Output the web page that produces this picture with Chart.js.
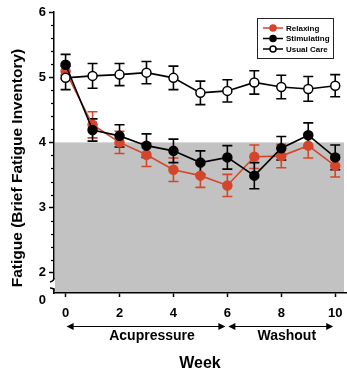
<!DOCTYPE html>
<html>
<head>
<meta charset="utf-8">
<script src="https://cdn.jsdelivr.net/npm/chart.js@4.4.1/dist/chart.umd.min.js"></script>
<style>
html, body { margin: 0; padding: 0; background: #fff; }
canvas { display: block; }
</style>
</head>
<body>
<canvas id="myChart" width="347" height="373"></canvas>
<script>

// weeks of the study
var weeks = [0, 1, 2, 3, 4, 5, 6, 7, 8, 9, 10];

// mean fatigue scores and their error (SE) per week
var relaxing       = [5.09, 4.27, 4.00, 3.81, 3.58, 3.49, 3.34, 3.78, 3.79, 3.95, 3.64];
var relaxingErr    = [0.12, 0.20, 0.17, 0.18, 0.18, 0.18, 0.17, 0.18, 0.18, 0.19, 0.17];
var stimulating    = [5.19, 4.19, 4.10, 3.95, 3.87, 3.69, 3.77, 3.49, 3.91, 4.11, 3.77];
var stimulatingErr = [0.16, 0.17, 0.17, 0.18, 0.18, 0.18, 0.18, 0.20, 0.18, 0.19, 0.19];
var usualCare      = [4.99, 5.02, 5.04, 5.07, 4.99, 4.76, 4.79, 4.92, 4.85, 4.82, 4.87];
var usualCareErr   = [0.18, 0.19, 0.17, 0.17, 0.18, 0.18, 0.17, 0.18, 0.18, 0.19, 0.17];

// axis ticks
var xTicks = [0, 2, 4, 6, 8, 10];
var yTicks = [2, 3, 4, 5, 6];
var yBreakLabel = '0';

// fatigue cutoff (shaded below)
var cutoff = 4;

// study phases under the x axis
var phaseNames = ['Acupressure', 'Washout'];
var phaseStart = [0, 6];
var phaseEnd   = [6, 10];

var FONT = "'Liberation Sans', Arial, Helvetica, sans-serif";
var RED = '#d4462c';

function pts(vals){
	return weeks.map(function(w, i){ return {x: w, y: vals[i]}; });
}

var data = {
	datasets: [
		{
			label: 'Relaxing',
			data: pts(relaxing),
			err: relaxingErr,
			borderColor: RED,
			backgroundColor: RED,
			pointBackgroundColor: RED,
			pointBorderColor: RED,
			errColor: RED,
			order: 3
		},
		{
			label: 'Stimulating',
			data: pts(stimulating),
			err: stimulatingErr,
			borderColor: '#000',
			backgroundColor: '#000',
			pointBackgroundColor: '#000',
			pointBorderColor: '#000',
			errColor: '#000',
			order: 2
		},
		{
			label: 'Usual Care',
			data: pts(usualCare),
			err: usualCareErr,
			borderColor: '#000',
			backgroundColor: '#fff',
			pointBackgroundColor: '#fff',
			pointBorderColor: '#000',
			errColor: '#000',
			order: 1
		}
	]
};

// grey area below cutoff, drawn under everything
var shadePlugin = {
	id: 'shade',
	beforeDraw: function(chart){
		var ctx = chart.ctx, a = chart.chartArea;
		var y4 = chart.scales.y.getPixelForValue(cutoff);
		ctx.save();
		ctx.fillStyle = '#c2c2c2';
		ctx.fillRect(a.left + 0.75, y4, a.right - a.left - 2.75, a.bottom - y4 - 1);
		ctx.restore();
	}
};

// error bars
var errPlugin = {
	id: 'errbars',
	beforeDatasetsDraw: function(chart){
		var ctx = chart.ctx, ys = chart.scales.y;
		ctx.save();
		ctx.lineWidth = 1.6;
		[0, 1, 2].forEach(function(di){
			var ds = chart.data.datasets[di];
			var meta = chart.getDatasetMeta(di);
			ctx.strokeStyle = ds.errColor;
			meta.data.forEach(function(p, i){
				var v = ds.data[i].y, e = ds.err[i];
				var t = ys.getPixelForValue(v + e), b = ys.getPixelForValue(v - e);
				ctx.beginPath();
				ctx.moveTo(p.x, t); ctx.lineTo(p.x, b);
				ctx.moveTo(p.x - 5, t); ctx.lineTo(p.x + 5, t);
				ctx.moveTo(p.x - 5, b); ctx.lineTo(p.x + 5, b);
				ctx.stroke();
			});
		});
		ctx.restore();
	}
};

// extra decorations: minor ticks, axis break, titles, phase arrows, legend
var decoPlugin = {
	id: 'deco',
	afterDraw: function(chart){
		var ctx = chart.ctx, a = chart.chartArea;
		var xs = chart.scales.x, ys = chart.scales.y;
		ctx.save();

		// minor y ticks
		ctx.strokeStyle = '#000';
		ctx.lineWidth = 1.2;
		for (var v = 2; v < 6; v += 0.2){
			if (Math.abs(v - Math.round(v)) < 0.01) continue;
			var yy = Math.round(ys.getPixelForValue(v)) + 0.5;
			ctx.beginPath();
			ctx.moveTo(a.left, yy); ctx.lineTo(a.left - 3, yy);
			ctx.stroke();
		}

		// axis break
		ctx.fillStyle = '#fff';
		ctx.fillRect(a.left - 2, a.bottom - 14, 3, 9);
		ctx.lineWidth = 1.5;
		ctx.beginPath();
		ctx.moveTo(a.left, a.bottom - 15);
		ctx.quadraticCurveTo(a.left, a.bottom - 12, a.left - 4, a.bottom - 11);
		ctx.moveTo(a.left - 4, a.bottom - 5);
		ctx.quadraticCurveTo(a.left, a.bottom - 5, a.left, a.bottom - 2);
		ctx.stroke();
		ctx.fillStyle = '#000';
		ctx.font = 'bold 13px ' + FONT;
		ctx.textAlign = 'right';
		ctx.textBaseline = 'middle';
		ctx.fillText(yBreakLabel, a.left - 8, a.bottom + 7);

		// y title
		ctx.save();
		ctx.translate(18, 168);
		ctx.rotate(-Math.PI / 2);
		ctx.font = 'bold 15.5px ' + FONT;
		ctx.textAlign = 'center';
		ctx.fillText('Fatigue (Brief Fatigue Inventory)', 0, 0);
		ctx.restore();

		// phase arrows
		var ay = a.bottom + 33.5;
		ctx.lineWidth = 1;
		phaseNames.forEach(function(name, i){
			var x1 = xs.getPixelForValue(phaseStart[i]) + 1;
			var x2 = xs.getPixelForValue(phaseEnd[i]) - 2;
			ctx.beginPath();
			ctx.moveTo(x1 + 5, ay); ctx.lineTo(x2 - 5, ay);
			ctx.stroke();
			ctx.beginPath();
			ctx.moveTo(x1, ay); ctx.lineTo(x1 + 7, ay - 3.5); ctx.lineTo(x1 + 7, ay + 3.5); ctx.closePath();
			ctx.moveTo(x2, ay); ctx.lineTo(x2 - 7, ay - 3.5); ctx.lineTo(x2 - 7, ay + 3.5); ctx.closePath();
			ctx.fill();
			ctx.font = 'bold 14px ' + FONT;
			ctx.textAlign = 'center';
			ctx.fillText(name, (x1 + x2) / 2 + 6, ay + 10);
		});

		// legend box
		var bx = a.right - 89, by = a.top + 6, bw = 76, bh = 40;
		ctx.lineWidth = 1;
		ctx.strokeStyle = '#222';
		ctx.strokeRect(bx + 0.5, by + 0.5, bw, bh);
		chart.data.datasets.forEach(function(ds, i){
			var ly = by + 10 + i * 10.5;
			ctx.strokeStyle = ds.borderColor;
			ctx.lineWidth = 1.5;
			ctx.beginPath();
			ctx.moveTo(bx + 6, ly); ctx.lineTo(bx + 26, ly);
			ctx.stroke();
			ctx.beginPath();
			ctx.arc(bx + 16, ly, 3, 0, Math.PI * 2);
			ctx.fillStyle = ds.pointBackgroundColor;
			ctx.fill();
			ctx.stroke();
			ctx.fillStyle = '#000';
			ctx.font = 'bold 8px ' + FONT;
			ctx.textAlign = 'left';
			ctx.textBaseline = 'middle';
			ctx.fillText(ds.label, bx + 29, ly + 0.5);
		});

		ctx.restore();
	}
};

var ctx = document.getElementById('myChart');
var chartInstance = new Chart(ctx, {
	type: 'line',
	data: data,
	plugins: [shadePlugin, errPlugin, decoPlugin],
	options: {
		responsive: false,
		animation: false,
		devicePixelRatio: 1,
		layout: { autoPadding: false, padding: { top: 12, right: 1, left: 0, bottom: 0 } },
		elements: {
			line: { borderWidth: 1.6, tension: 0 },
			point: { radius: 4.5, borderWidth: 1.5, hoverRadius: 4.5 }
		},
		plugins: {
			legend: { display: false },
			tooltip: { enabled: false }
		},
		scales: {
			x: {
				type: 'linear',
				min: -0.43,
				max: 10.4,
				afterBuildTicks: function(s){ s.ticks = xTicks.map(function(v){ return {value: v}; }); },
				afterFit: function(s){ s.height = 80; s.paddingLeft = 0; s.paddingRight = 0; },
				ticks: {
					font: { family: FONT, size: 13, weight: 'bold' },
					color: '#000',
					padding: 9,
					maxRotation: 0,
					autoSkip: false
				},
				grid: { drawOnChartArea: false, tickLength: 4, tickColor: '#000', tickWidth: 1.5 },
				border: { color: '#000', width: 1.5 },
				title: {
					display: true,
					text: 'Week',
					color: '#000',
					font: { family: FONT, size: 16, weight: 'bold' },
					padding: { top: 0, bottom: 0 }
				}
			},
			y: {
				type: 'linear',
				min: 1.69,
				max: 6,
				afterBuildTicks: function(s){ s.ticks = yTicks.map(function(v){ return {value: v}; }); },
				afterFit: function(s){ s.width = 54; s.paddingTop = 0; s.paddingBottom = 0; },
				ticks: {
					font: { family: FONT, size: 13, weight: 'bold' },
					color: '#000',
					padding: 3
				},
				grid: { drawOnChartArea: false, tickLength: 5, tickColor: '#000', tickWidth: 1.5 },
				border: { color: '#000', width: 1.5 }
			}
		}
	}
});

</script>
</body>
</html>
